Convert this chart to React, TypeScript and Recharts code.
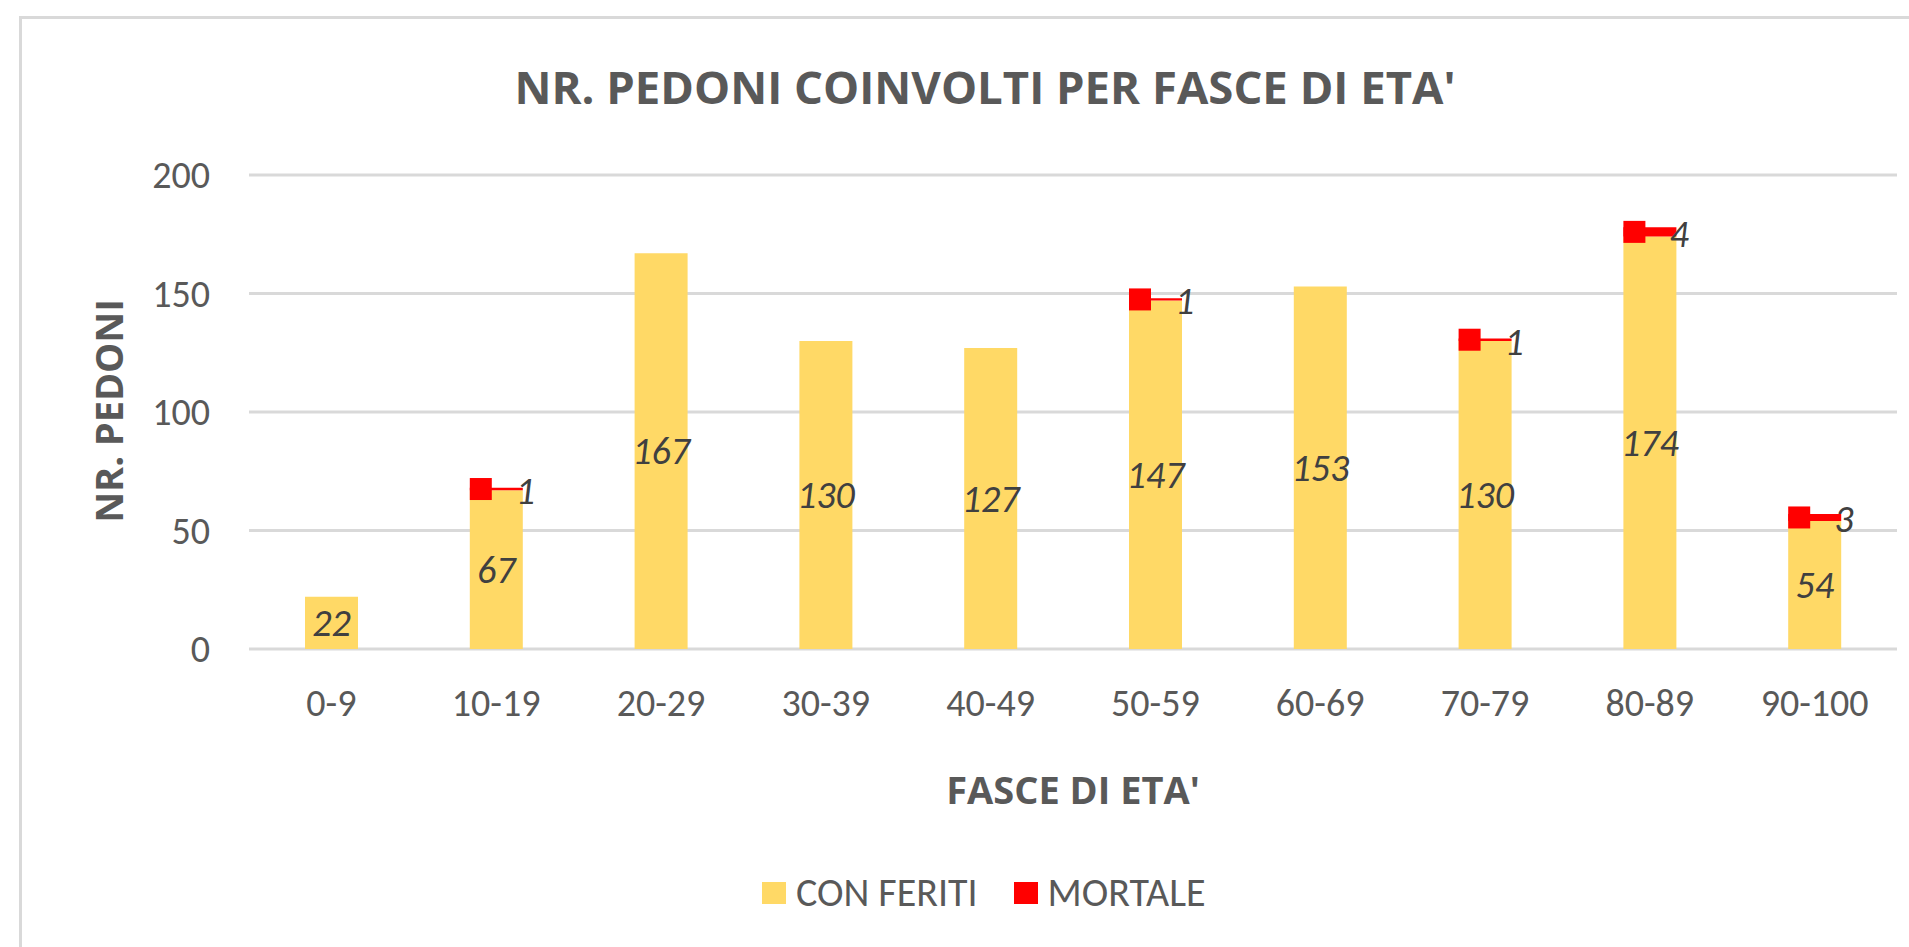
import { BarChart, Bar, XAxis, YAxis, CartesianGrid, LabelList } from 'recharts'

const ageGroups = ['0-9', '10-19', '20-29', '30-39', '40-49', '50-59', '60-69', '70-79', '80-89', '90-100']
const conFeriti = [22, 67, 167, 130, 127, 147, 153, 130, 174, 54]
const mortale = [null, 1, null, null, null, 1, null, 1, 4, 3]
const yTicks = [0, 50, 100, 150, 200]

const YELLOW = '#FFD966'
const RED = '#FF0000'
const FONT = 'Carlito, Calibri, Lato, sans-serif'
const BOLD_FONT = '"Open Sans", sans-serif'

const legendItems = [
    { name: 'CON FERITI', color: YELLOW },
    { name: 'MORTALE', color: RED },
]

const chartData = ageGroups.map((g, i) => ({
    group: g,
    feriti: conFeriti[i],
    mortale: mortale[i],
}))

function CenterLabel(props: any) {
    const { x, y, width, height, value } = props
    if (value == null) return null
    return (
        <text
            x={x + width / 2}
            y={y + height / 2}
            textAnchor="middle"
            dominantBaseline="central"
            fontStyle="italic"
            fontSize={38}
            fontFamily={FONT}
            fill="#404040"
        >
            {value}
        </text>
    )
}

function MortaleLabel(props: any) {
    const { x, y, width, height, value } = props
    if (!value) return null
    const cy = y + height / 2
    return (
        <g>
            <rect x={x} y={cy - 11} width={22} height={22} fill={RED} />
            <text
                x={x + width - 7}
                y={cy + 2}
                dominantBaseline="central"
                fontStyle="italic"
                fontSize={38}
                fontFamily={FONT}
                fill="#404040"
            >
                {value}
            </text>
        </g>
    )
}

function YTitle() {
    return (
        <text
            x={108}
            y={411}
            transform="rotate(-90 108 411)"
            textAnchor="middle"
            dominantBaseline="central"
            fontWeight="bold"
            fontSize={38}
            fontFamily={BOLD_FONT}
            fill="#595959"
        >
            NR. PEDONI
        </text>
    )
}

export default function App() {
    return (
        <div
            style={{
                position: 'absolute',
                left: 0,
                top: 0,
                width: 1909,
                height: 947,
                background: '#fff',
                overflow: 'hidden',
                fontFamily: FONT,
            }}
        >
            <div
                style={{
                    position: 'absolute',
                    left: 19,
                    top: 16,
                    width: 1909,
                    height: 947,
                    border: '3px solid #D9D9D9',
                }}
            />
            <div
                style={{
                    position: 'absolute',
                    left: 0,
                    width: 1970,
                    top: 54,
                    textAlign: 'center',
                    fontSize: 45.5,
                    fontWeight: 'bold',
                    fontFamily: BOLD_FONT,
                    color: '#595959',
                    lineHeight: '64px',
                }}
            >
                NR. PEDONI COINVOLTI PER FASCE DI ETA'
            </div>
            <div style={{ position: 'absolute', left: 0, top: 0 }}>
                <BarChart
                    width={1909}
                    height={947}
                    data={chartData}
                    margin={{ top: 175, right: 12, left: 189, bottom: 238 }}
                    barSize={53}
                >
                    <CartesianGrid vertical={false} stroke="#D9D9D9" strokeWidth={3} />
                    <XAxis
                        dataKey="group"
                        height={60}
                        axisLine={false}
                        tickLine={false}
                        tickSize={0}
                        tickMargin={40}
                        tick={{ fill: '#595959', fontSize: 38, fontFamily: FONT }}
                        label={{
                            value: "FASCE DI ETA'",
                            position: 'insideBottom',
                            offset: -95,
                            fill: '#595959',
                            fontSize: 38,
                            fontWeight: 'bold',
                            fontFamily: BOLD_FONT,
                        }}
                    />
                    <YAxis
                        width={60}
                        domain={[0, 200]}
                        ticks={yTicks}
                        axisLine={false}
                        tickLine={false}
                        tickSize={0}
                        tickMargin={39}
                        tick={{ fill: '#595959', fontSize: 38, fontFamily: FONT }}
                        label={{ content: () => <YTitle /> }}
                    />
                    <Bar dataKey="feriti" stackId="a" fill={YELLOW} isAnimationActive={false}>
                        <LabelList dataKey="feriti" content={<CenterLabel />} />
                    </Bar>
                    <Bar dataKey="mortale" stackId="a" fill={RED} isAnimationActive={false}>
                        <LabelList dataKey="mortale" content={<MortaleLabel />} />
                    </Bar>
                </BarChart>
            </div>
            <div
                style={{
                    position: 'absolute',
                    left: 762,
                    top: 868,
                    display: 'flex',
                    alignItems: 'center',
                    fontSize: 40,
                    color: '#595959',
                }}
            >
                {legendItems.map((item) => (
                    <div key={item.name} style={{ display: 'flex', alignItems: 'center', marginRight: 36 }}>
                        <span
                            style={{
                                display: 'inline-block',
                                width: 24,
                                height: 22,
                                background: item.color,
                                marginRight: 10,
                            }}
                        />
                        <span>{item.name}</span>
                    </div>
                ))}
            </div>
        </div>
    )
}
